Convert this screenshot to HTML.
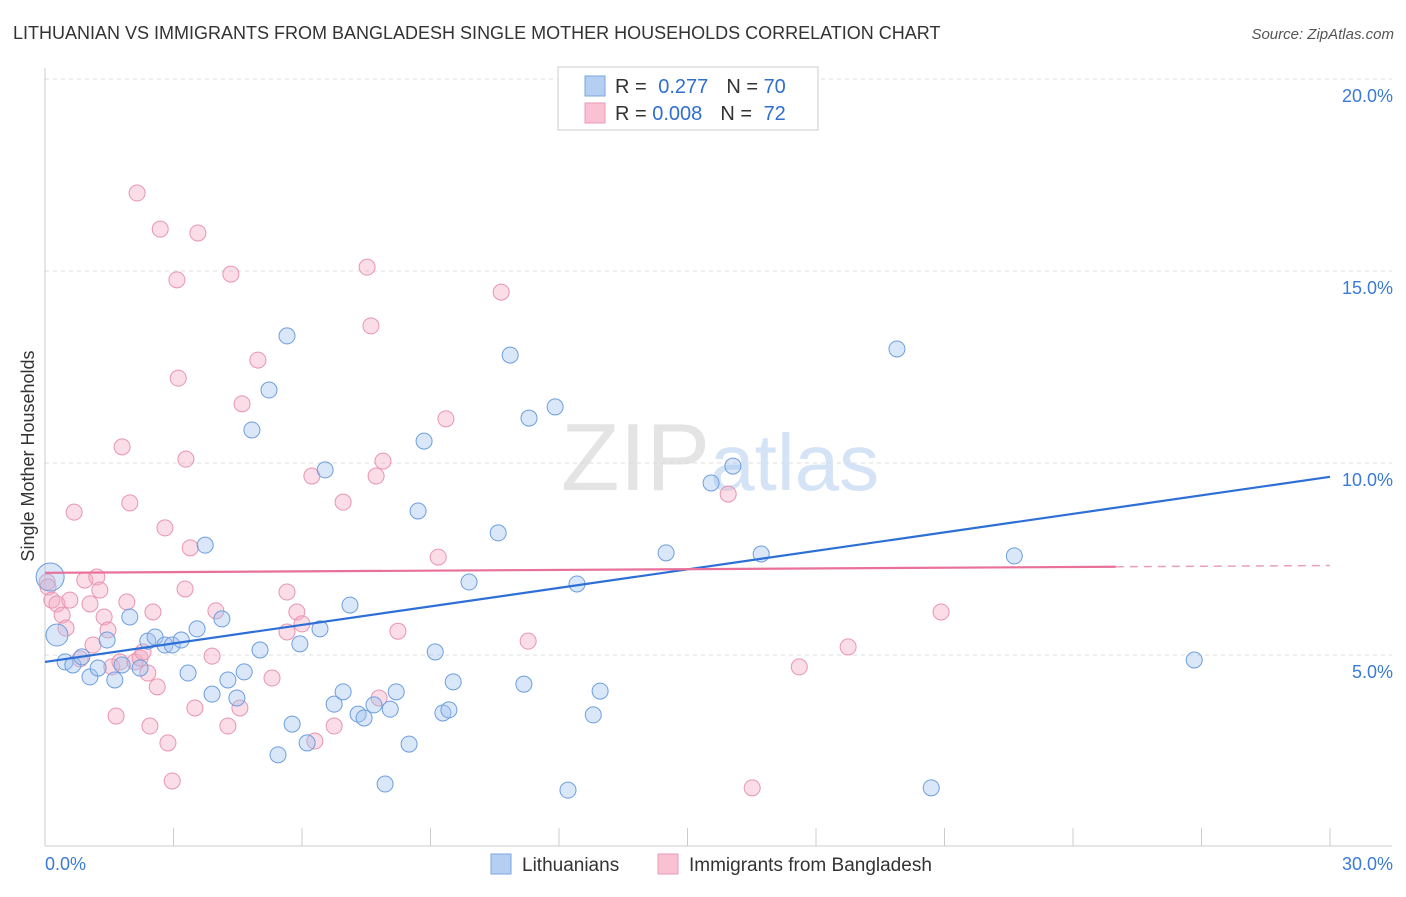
<!DOCTYPE html>
<html><head><meta charset="utf-8"><style>
body{margin:0;background:#fff;font-family:"Liberation Sans",sans-serif;}
svg text{font-family:"Liberation Sans",sans-serif;}
</style></head><body>
<svg id="chart" width="1406" height="892" viewBox="0 0 1406 892">
<text x="13" y="39" font-size="18" fill="#333">LITHUANIAN VS IMMIGRANTS FROM BANGLADESH SINGLE MOTHER HOUSEHOLDS CORRELATION CHART</text>
<text x="1394" y="39" font-size="15" fill="#555" text-anchor="end" font-style="italic">Source: ZipAtlas.com</text>
<text x="720" y="490" font-size="96" fill="#e4e4e4" text-anchor="middle" font-family="Liberation Serif">ZIP<tspan fill="#d4e3f5" font-family="Liberation Sans" font-size="80">atlas</tspan></text>
<g id="grid"></g><g id="axes"></g><g id="pts"></g><g id="lines"></g>
<text transform="translate(34,456) rotate(-90)" font-size="18" fill="#333" text-anchor="middle">Single Mother Households</text>
<g>
<rect x="558" y="67" width="260" height="63" fill="#fff" stroke="#ccc"/>
<rect x="585" y="76" width="20" height="20" fill="#b5cff2" stroke="#7aa7e0"/>
<rect x="585" y="103" width="20" height="20" fill="#f8c2d2" stroke="#ea9ab4"/>
<text x="615" y="93" font-size="20" fill="#333">R = <tspan fill="#2f6fd0" dx="6">0.277</tspan><tspan dx="18" fill="#333">N = </tspan><tspan fill="#2f6fd0">70</tspan></text>
<text x="615" y="120" font-size="20" fill="#333">R = <tspan fill="#2f6fd0">0.008</tspan><tspan dx="18" fill="#333">N = </tspan><tspan fill="#2f6fd0" dx="6">72</tspan></text>
</g>
<g>
<rect x="491" y="854" width="20" height="20" fill="#b5cff2" stroke="#7aa7e0"/>
<text x="522" y="871" font-size="19" fill="#333">Lithuanians</text>
<rect x="658" y="854" width="20" height="20" fill="#f8c2d2" stroke="#ea9ab4"/>
<text x="689" y="871" font-size="19" fill="#333">Immigrants from Bangladesh</text>
</g>
</svg>
<script>
const xTicks=[0,3,6,9,12,15,18,21,24,27,30];
const yTicks=[5,10,15,20];
const yTickLabels=["5.0%","10.0%","15.0%","20.0%"];
const xTickLabels=["0.0%","30.0%"];
const blueX=[0.12,0.28,0.47,0.65,0.86,1.05,1.24,1.45,1.63,1.80,1.98,2.22,2.40,2.57,2.80,2.97,3.18,3.34,3.55,3.74,3.90,4.13,4.27,4.48,4.65,4.83,5.02,5.23,5.44,5.65,5.77,5.95,6.12,6.42,6.54,6.75,6.96,7.12,7.31,7.45,7.68,7.94,8.06,8.20,8.50,8.71,8.85,9.11,9.29,9.43,9.53,9.90,10.58,10.86,11.18,11.30,11.91,12.21,12.42,12.80,12.96,14.50,15.55,16.06,16.72,17.58,19.89,20.69,22.63,26.83];
const blueY=[7.03,5.52,4.82,4.74,4.95,4.43,4.66,5.39,4.35,4.74,5.99,4.66,5.36,5.47,5.26,5.26,5.39,4.53,5.68,7.86,3.98,5.94,4.35,3.88,4.56,10.86,5.13,11.90,2.40,13.31,3.20,5.29,2.71,5.68,9.82,3.72,4.04,6.30,3.46,3.36,3.70,1.64,3.59,4.04,2.68,8.75,10.57,5.08,3.49,3.57,4.30,6.90,8.18,12.81,4.24,11.17,11.46,1.48,6.85,3.44,4.06,7.66,9.48,9.92,7.63,19.97,12.97,1.54,7.58,4.87];
const pinkX=[0.05,0.07,0.16,0.28,0.40,0.49,0.58,0.68,0.82,0.93,1.05,1.12,1.21,1.28,1.38,1.47,1.56,1.66,1.75,1.80,1.91,1.98,2.10,2.22,2.29,2.40,2.45,2.52,2.62,2.80,2.87,2.97,3.11,3.27,3.29,3.39,3.50,3.57,2.15,2.69,3.08,3.90,3.99,4.27,4.34,4.55,4.60,4.97,5.30,5.65,5.65,5.88,6.00,6.23,6.30,6.75,6.96,7.52,7.61,7.73,7.80,7.89,8.24,9.18,9.36,10.65,11.28,15.95,16.51,17.61,18.75,20.92];
const pinkY=[6.90,6.77,6.43,6.33,6.04,5.70,6.43,8.72,4.90,6.95,6.33,5.26,7.03,6.69,5.99,5.65,4.69,3.41,4.82,10.42,6.38,8.96,4.82,4.92,5.08,4.53,3.15,6.12,4.17,8.31,2.71,1.72,12.21,6.72,10.10,7.79,3.62,15.99,17.03,16.09,14.77,4.97,6.15,3.15,14.92,3.62,11.54,12.68,4.40,6.64,5.60,6.12,5.81,9.66,2.76,3.15,8.98,15.10,13.57,9.66,3.88,10.05,5.62,7.55,11.15,14.45,5.36,9.19,1.54,4.69,5.21,6.12];
const blueTrend=[4.82,9.64];
const pinkTrend=[7.14,7.33];
const pinkSolidEnd=25;
const NS="http://www.w3.org/2000/svg";
const X=v=>45+v/30*1285, Y=v=>847-v/5*192;
function mk(tag,attrs,parent){const e=document.createElementNS(NS,tag);for(const k in attrs)e.setAttribute(k,attrs[k]);document.getElementById(parent).appendChild(e);return e;}
yTicks.forEach((t,i)=>{
 const g=mk('line',{x1:45,x2:1392,y1:Y(t),y2:Y(t),stroke:'#ddd','stroke-dasharray':'4,4'},'grid');
 
 
 const tx=mk('text',{x:1393,y:Y(t)+23,'font-size':18,fill:'#3b7ad8','text-anchor':'end'},'axes');
 tx.textContent=yTickLabels[i];
 
 
});
const topLine=mk('line',{x1:45,x2:1392,y1:79,y2:79,stroke:'#ddd','stroke-dasharray':'4,4'},'grid');


const ya=mk('line',{x1:45,x2:45,y1:68,y2:846,stroke:'#ccc'},'axes');


const xa=mk('line',{x1:45,x2:1392,y1:846,y2:846,stroke:'#ccc'},'axes');


xTicks.forEach(t=>{const l=mk('line',{x1:X(t),x2:X(t),y1:828,y2:846,stroke:'#ccc'},'axes');
 
 });
const xl0=mk('text',{x:45,y:870,'font-size':18,fill:'#3b7ad8'},'axes');xl0.textContent=xTickLabels[0];


const xl1=mk('text',{x:1393,y:870,'font-size':18,fill:'#3b7ad8','text-anchor':'end'},'axes');xl1.textContent=xTickLabels[1];


pinkX.forEach((v,i)=>{const c=mk('circle',{cx:X(v),cy:Y(pinkY[i]),r:8,fill:'rgba(245,170,195,0.4)',stroke:'#e895b0','stroke-width':1},'pts');
 
 });
blueX.forEach((v,i)=>{const r=i==0?14:(i==1?11:8);const c=mk('circle',{cx:X(v),cy:Y(blueY[i]),r:r,fill:'rgba(160,195,240,0.4)',stroke:'#6d9ede','stroke-width':1},'pts');
 
 });
const bl=mk('line',{x1:X(0),y1:Y(blueTrend[0]),x2:X(30),y2:Y(blueTrend[1]),stroke:'#2d6fd6','stroke-width':2.2},'lines');


const pe=pinkTrend[0]+(pinkTrend[1]-pinkTrend[0])*pinkSolidEnd/30;
const pl=mk('line',{x1:X(0),y1:Y(pinkTrend[0]),x2:X(pinkSolidEnd),y2:Y(pe),stroke:'#e8709a','stroke-width':2.2},'lines');


const pd=mk('line',{x1:X(pinkSolidEnd),y1:Y(pe),x2:X(30),y2:Y(pinkTrend[1]),stroke:'#e8a0b8','stroke-width':1.5,'stroke-dasharray':'8,6'},'lines');


</script>
</body></html>
